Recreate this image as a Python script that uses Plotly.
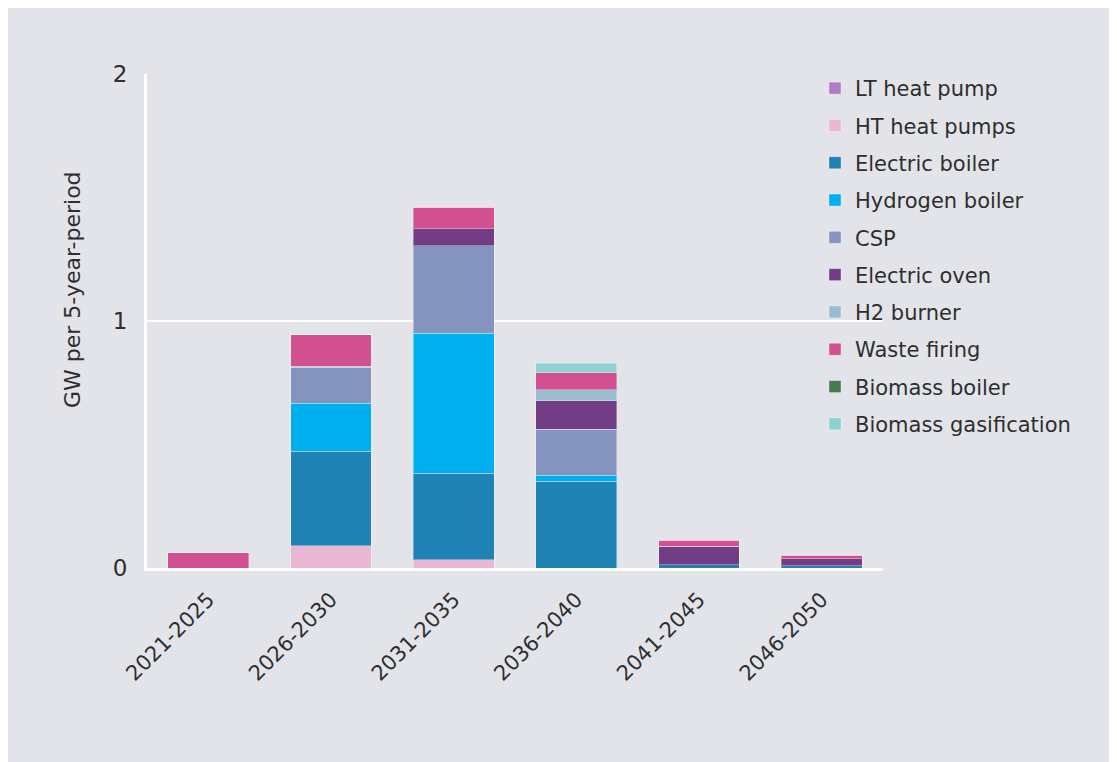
import plotly.graph_objects as go

periods = ["2021-2025", "2026-2030", "2031-2035", "2036-2040", "2041-2045", "2046-2050"]

lt_heat_pump = [0, 0, 0, 0, 0, 0]
ht_heat_pumps = [0, 0.091, 0.033, 0, 0, 0]
electric_boiler = [0, 0.381, 0.351, 0.351, 0.013, 0.009]
hydrogen_boiler = [0, 0.195, 0.566, 0.024, 0, 0]
csp = [0, 0.145, 0.355, 0.186, 0, 0]
electric_oven = [0, 0.005, 0.069, 0.117, 0.075, 0.028]
h2_burner = [0, 0, 0, 0.043, 0, 0]
waste_firing = [0.062, 0.127, 0.087, 0.069, 0.024, 0.015]
biomass_boiler = [0, 0, 0, 0, 0, 0]
biomass_gasification = [0, 0, 0, 0.039, 0, 0]

series = [
    ("LT heat pump", lt_heat_pump, "#b07cc6"),
    ("HT heat pumps", ht_heat_pumps, "#ebb8d3"),
    ("Electric boiler", electric_boiler, "#1f82b4"),
    ("Hydrogen boiler", hydrogen_boiler, "#00b0ee"),
    ("CSP", csp, "#8494bf"),
    ("Electric oven", electric_oven, "#723d85"),
    ("H2 burner", h2_burner, "#9bbccc"),
    ("Waste firing", waste_firing, "#d05090"),
    ("Biomass boiler", biomass_boiler, "#477a4e"),
    ("Biomass gasification", biomass_gasification, "#90d0d2"),
]

FONT = "DejaVu Sans"
TXT = "#2e2e2e"
BG = "#e3e4e9"

fig = go.Figure()
for name, vals, col in series:
    fig.add_trace(go.Bar(
        x=periods, y=vals, name=name, legendgroup=name,
        marker=dict(color=col, line=dict(color="rgba(255,255,255,0.35)", width=1)),
    ))

# figure coordinates (page body adds an 8px offset)
W, H = 1117, 762
L, T = 139, 66
pw, ph = 736, 494
R = W - L - pw
B = H - T - ph

def px_x(x):
    return (x - L) / pw

def px_y(y):
    return (T + ph - y) / ph

fig.update_layout(
    width=W, height=H,
    margin=dict(l=L, r=R, t=T, b=B, pad=0),
    barmode="stack", bargap=0.34,
    paper_bgcolor=BG, plot_bgcolor=BG,
    font=dict(family=FONT, color=TXT, size=20),
    showlegend=True,
    legend=dict(
        x=px_x(807), xanchor="left", y=px_y(60), yanchor="top",
        traceorder="grouped", tracegroupgap=7,
        font=dict(size=21, color=TXT, family=FONT),
        bgcolor="rgba(0,0,0,0)", itemwidth=30,
    ),
    annotations=[
        dict(text="GW per 5-year-period", textangle=-90,
             xref="paper", yref="paper", x=px_x(64), y=px_y(282),
             xanchor="center", yanchor="middle", showarrow=False,
             font=dict(size=22, color=TXT, family=FONT)),
    ],
)

fig.update_xaxes(
    showgrid=False, showline=True, linecolor="white", linewidth=3,
    tickangle=-45, tickfont=dict(size=21, color=TXT), ticks="",
    ticklabelstandoff=8, zeroline=False,
)
fig.update_yaxes(
    range=[0, 2], tickvals=[0, 1, 2], ticktext=["0", "1", "2"],
    showgrid=True, gridcolor="white", gridwidth=2,
    showline=True, linecolor="white", linewidth=3, zeroline=False,
    ticks="", ticklabelstandoff=12, tickfont=dict(size=23, color=TXT),
)

fig.write_html("out.html")
